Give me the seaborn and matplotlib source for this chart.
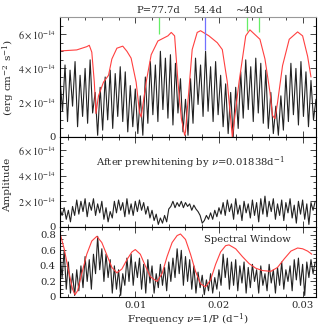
import numpy as np
import matplotlib
matplotlib.use('Agg')
import matplotlib.pyplot as plt
from matplotlib.ticker import MultipleLocator
import seaborn as sns
import pandas as pd

sns.set_style('ticks')
plt.rcParams['font.family'] = ['DejaVu Serif']
plt.rcParams['mathtext.fontset'] = 'dejavuserif'

# --- top panel: amplitude spectrum (units of 1e-14), grid step 0.0003 d^-1 from 0.001
top_amp = [3.4, 1.5, 4.2, 0.9, 3.9, 1.8, 4.4, 0.6, 3.6, 1.2, 4.0, 0.8, 4.5, 1.4, 2.6, 0.1,
           2.9, 0.4, 3.5, 1.0, 3.9, 0.5, 3.7, 1.2, 4.1, 0.9, 3.8, 0.3, 3.0, 0.6, 2.8, 0.2,
           2.4, 0.1, 3.5, 0.8, 4.4, 1.3, 4.2, 0.9, 5.0, 1.6, 4.6, 1.1, 4.8, 0.7, 4.3, 1.4,
           3.4, 0.3, 2.2, 0.1, 3.4, 0.8, 4.6, 1.9, 4.2, 1.2, 5.0, 1.5, 4.1, 0.9, 4.4, 1.3,
           3.6, 0.6, 3.1, 0.2, 2.6, 0.0, 2.9, 0.5, 3.8, 1.1, 4.5, 1.6, 4.1, 0.9, 4.6, 1.4,
           4.3, 0.8, 3.9, 0.5, 2.6, 0.2, 1.8, 0.1, 2.4, 0.4, 3.6, 0.9, 4.3, 1.3, 4.0, 0.7,
           4.4, 1.2, 3.8, 0.6, 3.3, 1.0, 2.2]
top_freq = np.linspace(0.001, 0.0316, len(top_amp))

# red envelope (fit of a single sinusoid at each frequency)
env_freq = [0.0010, 0.0030, 0.0042, 0.0045, 0.0048, 0.0051, 0.0053, 0.0056, 0.0062, 0.0068,
            0.0072, 0.0078, 0.0085, 0.0090, 0.0095, 0.0101, 0.0105, 0.0107, 0.0113, 0.0119,
            0.0127, 0.0139, 0.0143, 0.0147, 0.0151, 0.0155, 0.0159, 0.0160, 0.0168, 0.0174,
            0.0178, 0.0188, 0.0198, 0.0204, 0.0210, 0.0216, 0.0224, 0.0232, 0.0237, 0.0249,
            0.0255, 0.0261, 0.0264, 0.0267, 0.0270, 0.0276, 0.0284, 0.0294, 0.0300, 0.0306,
            0.0310]
env_amp = [5.02, 5.08, 5.27, 5.35, 4.95, 3.2, 1.37, 2.4, 3.2, 3.6,
           4.55, 5.18, 5.3, 5.0, 4.6, 3.2, 1.45, 1.16, 3.2, 4.8,
           5.6, 5.9, 6.1, 5.9, 3.2, 1.1, 0.1, 0.3, 5.1, 6.1,
           6.2, 5.9, 5.5, 5.1, 3.2, 0.0, 3.2, 5.9, 6.25, 5.7,
           4.55, 2.6, 1.26, 1.07, 2.0, 4.16, 5.7, 6.13, 5.9, 4.7,
           3.5]

# --- middle panel: residual spectrum after prewhitening, grid step 0.00025
res_amp = [1.4, 0.9, 1.5, 0.6, 1.3, 0.4, 1.6, 0.9, 2.1, 1.0, 2.0, 1.2, 2.2, 0.8, 1.9, 1.3,
           2.2, 0.9, 1.8, 1.1, 2.0, 0.6, 1.5, 0.4, 1.2, 0.7, 2.0, 1.1, 2.1, 1.3, 1.9, 0.8,
           2.2, 1.0, 1.8, 0.9, 2.0, 1.2, 2.1, 1.3, 1.9, 1.0, 1.6, 0.7, 1.3, 0.5, 1.0, 0.2,
           0.7, 0.3, 0.9, 0.4, 1.4, 1.6, 2.0, 1.5, 1.9, 1.6, 2.0, 1.5, 1.9, 1.6, 1.8, 1.3,
           1.7, 1.4, 1.2, 0.9, 0.3, 0.5, 0.9, 0.6, 1.1, 0.6, 1.3, 0.8, 1.5, 1.0, 1.9, 0.9,
           2.1, 1.2, 1.8, 0.6, 2.2, 1.0, 1.7, 0.5, 2.0, 1.1, 1.8, 0.7, 2.1, 0.9, 1.9, 0.4,
           2.2, 1.0, 2.4, 0.8, 2.0, 1.2, 2.2, 0.6, 1.8, 0.9, 2.1, 0.5, 1.9, 1.1, 2.2, 0.7,
           1.7, 0.3, 2.0, 1.0, 2.1, 0.6, 1.8, 0.2, 1.9, 1.3, 2.0]
res_freq = np.linspace(0.001, 0.0315, len(res_amp))

# --- bottom panel: spectral window, grid step 0.00025
win_amp = [0.55, 0.25, 0.60, 0.10, 0.45, 0.05, 0.30, 0.02, 0.35, 0.08, 0.40, 0.12, 0.52, 0.20,
           0.48, 0.10, 0.55, 0.30, 0.78, 0.35, 0.62, 0.20, 0.55, 0.25, 0.48, 0.05, 0.40, 0.10,
           0.35, 0.02, 0.30, 0.15, 0.50, 0.20, 0.55, 0.15, 0.45, 0.25, 0.50, 0.10, 0.42, 0.05,
           0.48, 0.18, 0.40, 0.05, 0.30, 0.12, 0.42, 0.15, 0.38, 0.08, 0.45, 0.20, 0.50, 0.25,
           0.62, 0.30, 0.60, 0.15, 0.52, 0.20, 0.48, 0.10, 0.40, 0.05, 0.32, 0.12, 0.28, 0.03,
           0.22, 0.08, 0.30, 0.05, 0.25, 0.10, 0.35, 0.15, 0.55, 0.25, 0.50, 0.10, 0.45, 0.15,
           0.48, 0.08, 0.40, 0.18, 0.45, 0.05, 0.38, 0.12, 0.42, 0.20, 0.35, 0.05, 0.40, 0.15,
           0.30, 0.08, 0.42, 0.18, 0.35, 0.05, 0.38, 0.15, 0.45, 0.10, 0.35, 0.20, 0.40, 0.08,
           0.48, 0.22, 0.50, 0.15, 0.42, 0.02, 0.45, 0.25, 0.48, 0.30, 0.45]
win_freq = np.linspace(0.001, 0.0315, len(win_amp))

win_env_freq = [0.0009, 0.0015, 0.0020, 0.0025, 0.0028, 0.0031, 0.0036, 0.0042, 0.0048, 0.0054,
                0.0060, 0.0066, 0.0072, 0.0078, 0.0084, 0.0090, 0.0096, 0.0100, 0.0106, 0.0112,
                0.0118, 0.0126, 0.0132, 0.0138, 0.0144, 0.0150, 0.0154, 0.0160, 0.0166, 0.0172,
                0.0178, 0.0184, 0.0190, 0.0196, 0.0202, 0.0208, 0.0212, 0.0220, 0.0228, 0.0236,
                0.0244, 0.0252, 0.0262, 0.0270, 0.0278, 0.0286, 0.0294, 0.0300, 0.0306, 0.0311]
win_env_amp = [0.86, 0.62, 0.35, 0.10, 0.03, 0.08, 0.30, 0.55, 0.72, 0.78,
               0.70, 0.54, 0.38, 0.31, 0.36, 0.48, 0.58, 0.61, 0.55, 0.40,
               0.26, 0.20, 0.30, 0.52, 0.70, 0.79, 0.81, 0.74, 0.55, 0.33,
               0.17, 0.13, 0.22, 0.42, 0.58, 0.66, 0.67, 0.62, 0.52, 0.43,
               0.37, 0.34, 0.33, 0.38, 0.49, 0.59, 0.63, 0.62, 0.59, 0.55]

# marked periods
mark_freq = [1 / 77.7, 0.01838, 0.0233, 0.0248]
mark_top = [6.0, 5.1, 6.2, 6.1]
mark_color = ['#66ee66', '#7070ff', '#66ee66', '#66ee66']
label_freq = [0.01275, 0.01870, 0.02366]
label_text = ['P=77.7d', '54.4d', '~40d']

black = '#222222'
red = '#ff4040'
fs = 7.2

fig = plt.figure(figsize=(3.27, 3.27), dpi=100)
L, W = 60 / 327, 256 / 327
ax1 = fig.add_axes([L, 190 / 327, W, 120 / 327])
ax2 = fig.add_axes([L, 100 / 327, W, 90 / 327])
ax3 = fig.add_axes([L, 30 / 327, W, 70 / 327])

sns.lineplot(x=top_freq, y=np.array(top_amp) * 1e-14, ax=ax1, color=black, lw=0.8,
             estimator=None, sort=False)
sns.lineplot(x=env_freq, y=np.array(env_amp) * 1e-14, ax=ax1, color=red, lw=0.8,
             estimator=None, sort=False)
for f, t, c in zip(mark_freq, mark_top, mark_color):
    ax1.vlines(f, t * 1e-14, 7e-14, color=c, lw=0.9)
for f, s in zip(label_freq, label_text):
    ax1.text(f, 1.015, s, transform=ax1.get_xaxis_transform(), ha='center', va='bottom',
             fontsize=fs)

sns.lineplot(x=res_freq, y=np.array(res_amp) * 1e-14, ax=ax2, color=black, lw=0.8,
             estimator=None, sort=False)
ax2.text(0.0166, 5.0e-14, r'After prewhitening by $\nu$=0.01838d$^{-1}$', ha='center',
         va='center', fontsize=fs)

sns.lineplot(x=win_freq, y=win_amp, ax=ax3, color=black, lw=0.8, estimator=None, sort=False)
sns.lineplot(x=win_env_freq, y=win_env_amp, ax=ax3, color=red, lw=0.8, estimator=None,
             sort=False)
ax3.text(0.0234, 0.735, 'Spectral Window', ha='center', va='center', fontsize=fs)

ylabels = ['0', r'$2\times10^{-14}$', r'$4\times10^{-14}$', r'$6\times10^{-14}$']
for ax in (ax1, ax2):
    ax.set_ylim(0, 7e-14)
    ax.set_yticks([0, 2e-14, 4e-14, 6e-14])
    ax.set_yticklabels(ylabels)
    for t in ax.get_yticklabels():
        t.set_math_fontfamily('stix')
    ax.yaxis.set_minor_locator(MultipleLocator(0.5e-14))
ax3.set_ylim(0, 0.9)
ax3.set_yticks([0, 0.2, 0.4, 0.6, 0.8])
ax3.set_yticklabels(['0', '0.2', '0.4', '0.6', '0.8'])
ax3.yaxis.set_minor_locator(MultipleLocator(0.05))

for ax in (ax1, ax2, ax3):
    ax.set_xlim(0.001, 0.0316)
    ax.set_xticks([0.01, 0.02, 0.03])
    ax.xaxis.set_minor_locator(MultipleLocator(0.002))
    ax.tick_params(which='both', direction='in', top=True, right=True, labelsize=fs,
                   width=0.6, pad=3)
    ax.tick_params(which='major', length=4)
    ax.tick_params(which='minor', length=2)
    for sp in ax.spines.values():
        sp.set_linewidth(0.8)
        sp.set_color('black')
    ax.set_xlabel('')
    ax.set_ylabel('')
ax1.spines['top'].set_color('#999999')
ax1.set_xticklabels([])
ax2.set_xticklabels([])
ax3.set_xticklabels(['0.01', '0.02', '0.03'])

fig.text(0.5 * (L * 2 + W), 7 / 327, r'Frequency $\nu$=1/P (d$^{-1}$)', ha='center',
         va='center', fontsize=fs + 0.3)
fig.text(9 / 327, 1 - 78 / 327, r'(erg cm$^{-2}$ s$^{-1}$)', rotation=90, ha='center',
         va='center', fontsize=fs + 0.3)
fig.text(8 / 327, 1 - 185 / 327, 'Amplitude', rotation=90, ha='center', va='center',
         fontsize=fs + 0.3)

fig.savefig('out.png', dpi=100)
